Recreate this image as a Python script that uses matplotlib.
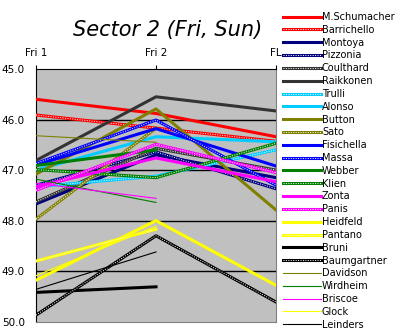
import numpy as np
import matplotlib
matplotlib.use("Agg")
import matplotlib.pyplot as plt

# lap sectors, Fri 1 / Fri 2 / FL
sessions = ["Fri 1", "Fri 2", "FL"]
drivers = ["M.Schumacher", "Barrichello", "Montoya", "Pizzonia", "Coulthard",
           "Raikkonen", "Trulli", "Alonso", "Button", "Sato", "Fisichella",
           "Massa", "Webber", "Klien", "Zonta", "Panis", "Heidfeld", "Pantano",
           "Bruni", "Baumgartner", "Davidson", "Wirdheim", "Briscoe", "Glock",
           "Leinders"]
fri1 = [45.60, 45.91, 47.67, 47.30, 47.63, 46.81, 47.33, 47.00, 47.08, 47.97,
        46.90, 46.87, 46.91, 46.99, 47.33, 47.40, 49.18, 48.80, 49.42, 49.87,
        46.32, 47.18, 47.26, 49.09, 49.36]
fri2 = [45.88, 46.17, 46.70, 46.64, 46.57, 45.55, 47.12, 46.34, 45.79, 46.17,
        46.18, 46.01, 46.60, 47.15, 46.76, 46.49, 48.00, 48.17, 49.31, 48.30,
        46.45, 47.64, 47.56, 48.11, 48.62]
fl = [46.34, 46.43, 47.15, 47.37, 47.00, 45.83, 46.60, 46.44, 47.79, np.nan,
      46.92, 47.30, np.nan, 46.47, 47.23, 47.05, 49.28, np.nan, np.nan, 49.61,
      np.nan, np.nan, np.nan, np.nan, np.nan]

colors = ["#FF0000", "#FF0000", "#000080", "#000080", "#333333", "#333333",
          "#00CCFF", "#00CCFF", "#808000", "#808000", "#0000FF", "#0000FF",
          "#008000", "#008000", "#FF00FF", "#FF00FF", "#FFFF00", "#FFFF00",
          "#000000", "#000000", "#808000", "#008000", "#FF00FF", "#FFFF00",
          "#000000"]
# 's' solid thick, 'd' dotted thick, 't' thin
styles = ["s", "d", "s", "d", "d", "s", "d", "s", "s", "d", "s", "d",
          "s", "d", "s", "d", "s", "d", "s", "d", "t", "t", "t", "t", "t"]

fig = plt.figure(figsize=(4.04, 3.36), dpi=100)
ax = fig.add_axes([36/404, 1 - 321.7/336, 240/404, (321.7 - 69)/336])
ax.set_facecolor("#C0C0C0")

x = np.arange(len(sessions))
handles = []
for name, a, b, c, col, st in zip(drivers, fri1, fri2, fl, colors, styles):
    y = [a, b, c]
    if st == "t":
        h, = ax.plot(x, y, color=col, lw=0.8, zorder=3)
    else:
        h, = ax.plot(x, y, color=col, lw=2.2, zorder=3)
    if st == "d":
        w, = ax.plot(x, y, color="white", lw=0.7, ls=(0, (1, 1.5)), zorder=3)
        h = (h, w)
    handles.append(h)

ax.set_xlim(0, 2)
ax.set_ylim(50, 45)
ax.set_yticks([45, 46, 47, 48, 49, 50])
ax.set_yticklabels([f"{v:.1f}" for v in [45, 46, 47, 48, 49, 50]])
ax.set_xticks(x)
ax.set_xticklabels(sessions)
ax.xaxis.tick_top()
ax.tick_params(axis="x", length=3, direction="out", pad=5, labelsize=7.5)
ax.tick_params(axis="y", length=0, pad=8, labelsize=7.5)
for v in [46, 47, 48, 49]:
    ax.axhline(v, color="black", lw=1, zorder=2)
ax.spines["left"].set_color("black")
ax.spines["top"].set_color("black")
ax.spines["right"].set_color("#808080")
ax.spines["bottom"].set_color("#808080")

fig.text(168/404, 1 - 30/336, "Sector 2 (Fri, Sun)", ha="center", va="center",
         fontsize=15, style="italic")

fig.legend(handles, drivers, loc="upper left", bbox_to_anchor=(283/404, 1 - 12/336),
           frameon=False, fontsize=7, handlelength=3.9, handletextpad=0.1,
           labelspacing=0.29, borderpad=0, borderaxespad=0)

fig.savefig("out.png", dpi=100)
